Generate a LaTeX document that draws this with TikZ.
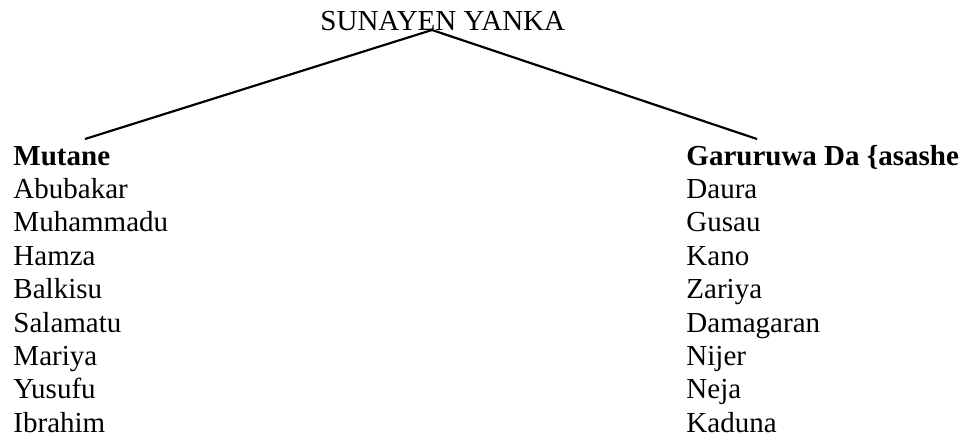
\documentclass[tikz,border=0pt]{standalone}
\usepackage{fontspec}
\setmainfont{Liberation Serif}
\tikzset{
  entry/.style={anchor=base west, inner sep=0pt, font=\fontsize{12}{14}\selectfont},
  head/.style={entry, font=\fontsize{12}{14}\selectfont\bfseries},
}
\begin{document}
\begin{tikzpicture}[x=0.4138pt, y=-0.4138pt]

    \useasboundingbox (0,0) rectangle (964,438);

    \node[entry] (title) at (320,30) {SUNAYEN YANKA};
    \coordinate (apex) at (432,30);
    \coordinate (lend) at (85,139);
    \coordinate (rend) at (757,139);

    \draw[line width=0.9pt] (lend) -- (apex) -- (rend);

    % left column
    \node[head] (mutane) at (13,165) {Mutane};
    \foreach \name [count=\i] in {Abubakar,Muhammadu,Hamza,Balkisu,Salamatu,Mariya,Yusufu,Ibrahim}
        \node[entry] (m\i) at (13,165+\i*33.4) {\name};

    % right column
    \node[head] (garuruwa) at (686,165) {Garuruwa Da \{asashe};
    \foreach \name [count=\i] in {Daura,Gusau,Kano,Zariya,Damagaran,Nijer,Neja,Kaduna}
        \node[entry] (g\i) at (686,165+\i*33.4) {\name};

\end{tikzpicture}
\end{document}
